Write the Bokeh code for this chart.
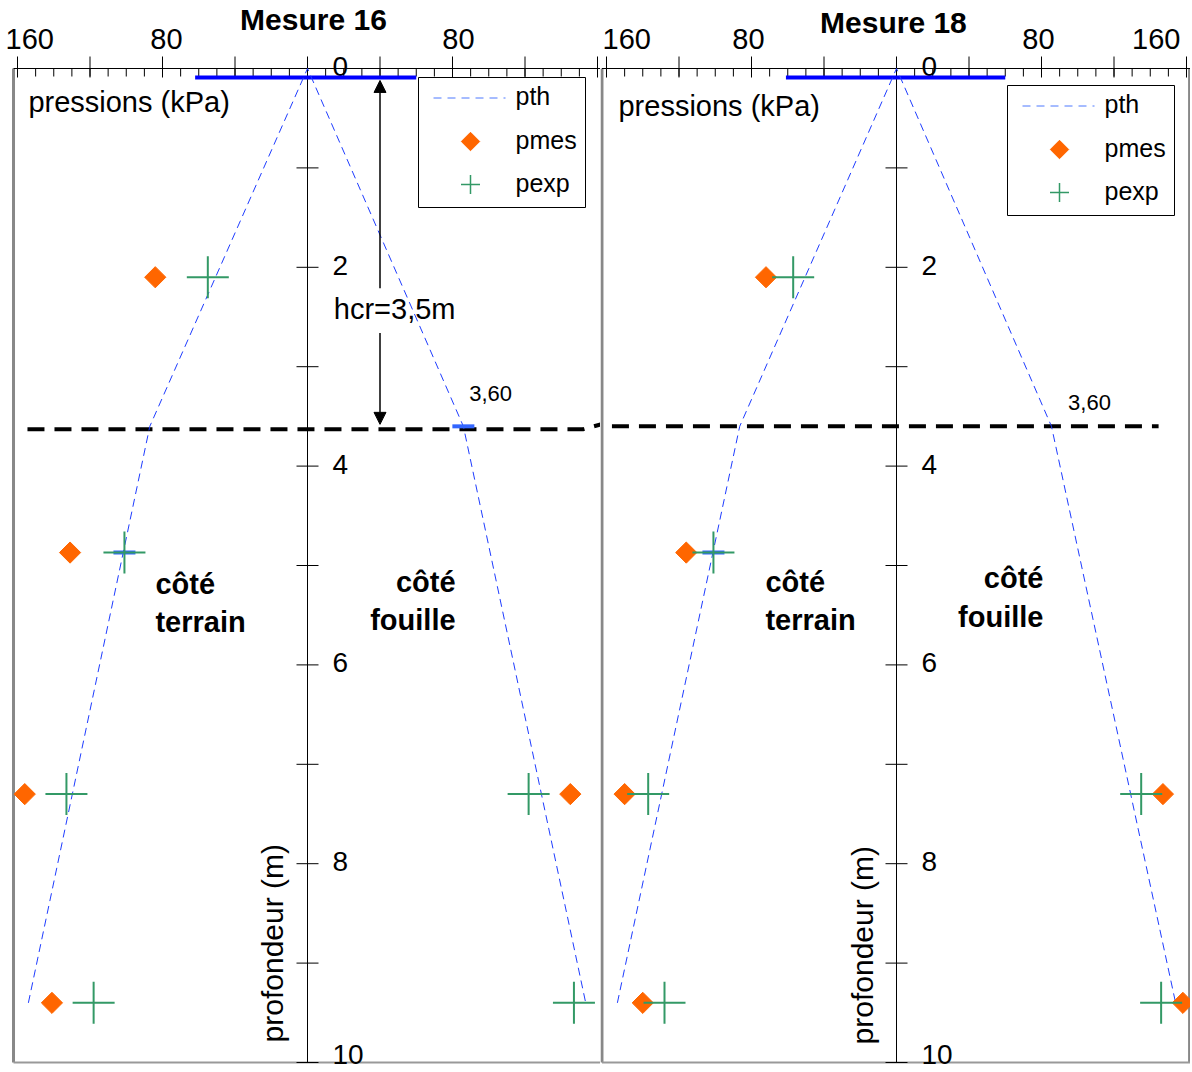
from bokeh.plotting import figure
from bokeh.layouts import row
from bokeh.models import Range1d, Arrow, NormalHead
from bokeh.core.properties import value
from bokeh.embed import file_html
from bokeh.resources import INLINE

# ---------------- data ----------------
titles = ["Mesure 16", "Mesure 18"]

# theoretical pressure profile (negative pressure = côté terrain)
pth_depth = [9.4, 3.6, 0.0, 3.6, 9.4]
pth_press_16 = [-154, -87, 0, 86, 153.5]
pth_press_18 = [-154, -86.5, 0, 85.5, 154]

# measured / experimental points
pt_depth = [2.1, 4.87, 7.3, 9.4]
pmes_terrain_16 = [84, 131, 156, 141]
pexp_terrain_16 = [55, 101, 133, 118]
pmes_fouille_depth_16 = [7.3]
pmes_fouille_16 = [145]
pexp_fouille_depth_16 = [7.3, 9.4]
pexp_fouille_16 = [122, 147]

pmes_terrain_18 = [72, 116, 150, 140]
pexp_terrain_18 = [57, 101, 137, 128]
pmes_fouille_depth_18 = [7.3, 9.4]
pmes_fouille_18 = [147, 158]
pexp_fouille_depth_18 = [7.3, 9.4]
pexp_fouille_18 = [135, 146]

# highlighted points (short blue dashes)
hl_depth_16 = [3.6, 4.87]
hl_press_16 = [86, -101]
hl_depth_18 = [4.87]
hl_press_18 = [-101]

# wall head (thick blue line)
head_press_16 = [-62, 60]
head_press_18 = [-61, 60]
head_depth = 0.09

# critical depth line
hcr_line_press_16 = [-154.5, 152, 162]
hcr_line_depth_16 = [3.63, 3.63, 3.58]
hcr_line_press_18 = [-157, 144.6]
hcr_line_depth_18 = [3.6, 3.6]
hcr_label = "hcr=3,5m"
kink_label = "3,60"

# axes
depth_ticks = list(range(0, 11))
depth_labels = ["0", "2", "4", "6", "8"]
depth_label_pos = [0, 2, 4, 6, 8]
depth_last_label = "10"
depth_last_pos = 10
press_major = list(range(-160, 161, 40))
press_minor = list(range(-160, 161, 10))
press_labels_16 = ["160", "80", "80"]
press_label_pos_16 = [-160, -80, 80]
press_labels_18 = ["160", "80", "80", "160"]
press_label_pos_18 = [-160, -80, 80, 160]

legend_labels = ["pth", "pmes", "pexp"]

FONT = "Liberation Sans"
PX_M = 99.4       # px per metre
PX_K = 1.8125     # px per kPa
TOP_PX = 68       # depth 0 position in px
H = 1070
Y_TOP = -TOP_PX / PX_M
Y_BOT = 10 + (H - TOP_PX - 10 * PX_M) / PX_M

BLUE = "#1E3CFF"
ORANGE = "#FF6600"
GREEN = "#339966"


def txt(p, x, y, t, size, style="normal", align="left", baseline="middle",
        angle=0.0, xo=0, yo=0):
    p.text(x=x, y=y, text=t, text_font=value(FONT), text_font_size=value(size),
           text_font_style=style, text_align=align, text_baseline=baseline,
           angle=angle, x_offset=xo, y_offset=yo, text_color="black")


def make_panel(width, x0_px, title, title_x, title_y, pth_press,
               mes_d, mes_p, exp_d, exp_p, hl_d, hl_p, head_p,
               hcr_p, hcr_d, kink_xy, lbl_pos, lbls, lbl_styles, legend_px,
               left_border, right_border, press_lbl_xy, prof_xy,
               terrain_xy, fouille_xy, hcr_arrow):
    x_start = -x0_px / PX_K
    x_end = (width - x0_px) / PX_K
    p = figure(width=width, height=H, output_backend="svg", toolbar_location=None,
               x_range=Range1d(x_start, x_end), y_range=Range1d(Y_BOT, Y_TOP),
               x_axis_location=None, y_axis_location=None, min_border=0,
               outline_line_color=None)
    p.grid.visible = False
    p.background_fill_color = "white"
    p.border_fill_color = "white"

    def X(px):
        return (px - x0_px) / PX_K

    def Y(py):
        return (py - TOP_PX) / PX_M

    # frame borders
    p.segment(x0=[left_border], y0=[0], x1=[left_border], y1=[10], line_color="#888888", line_width=3)
    if right_border is not None:
        p.segment(x0=[right_border], y0=[0], x1=[right_border], y1=[10], line_color="#888888", line_width=3)
    p.segment(x0=[left_border], y0=[10], x1=[x_end], y1=[10], line_color="#999999", line_width=2)

    # top pressure axis
    p.segment(x0=[left_border], y0=[0], x1=[x_end], y1=[0], line_color="black", line_width=1)
    p.segment(x0=press_minor, y0=[0] * len(press_minor), x1=press_minor,
              y1=[8 / PX_M] * len(press_minor), line_color="black", line_width=1)
    p.segment(x0=press_major, y0=[-12 / PX_M] * len(press_major), x1=press_major,
              y1=[9 / PX_M] * len(press_major), line_color="black", line_width=1)
    for lx, lt, (al, xo) in zip(lbl_pos, lbls, lbl_styles):
        txt(p, [lx], [Y(38)], [lt], "29px", align=al, xo=xo)

    # depth axis
    p.segment(x0=[0], y0=[0], x1=[0], y1=[10], line_color="black", line_width=1)
    p.scatter(x=[0] * len(depth_ticks), y=depth_ticks, marker="dash", size=22,
              line_color="black", line_width=1)
    txt(p, [0] * len(depth_label_pos), depth_label_pos, depth_labels, "28px", xo=25, yo=-2)
    txt(p, [0], [depth_last_pos], [depth_last_label], "28px", xo=25, yo=-8)

    # wall head
    p.line(x=head_p, y=[head_depth, head_depth], line_color="#0000FF", line_width=4)

    # critical depth dashed line
    p.line(x=hcr_p, y=hcr_d, line_color="black", line_width=4, line_dash="17 10")

    # theoretical line
    p.line(x=pth_press, y=pth_depth, line_color=BLUE, line_width=1, line_dash="8 5")

    # highlighted pth points
    p.scatter(x=hl_p, y=hl_d, marker="dash", size=22, line_color="#3366FF", line_width=4)

    p.scatter(x=mes_p, y=mes_d, marker="square", angle=0.785398, size=15,
              fill_color=ORANGE, line_color=ORANGE)
    p.scatter(x=exp_p, y=exp_d, marker="cross", size=42, line_color=GREEN, line_width=2)

    # texts
    txt(p, [title_x], [title_y], [title], "30px", style="bold", align="center")
    txt(p, [press_lbl_xy[0]], [press_lbl_xy[1]], ["pressions (kPa)"], "29px")
    txt(p, [prof_xy[0]], [prof_xy[1]], ["profondeur (m)"], "30px", align="center", angle=1.5708)
    txt(p, [terrain_xy[0]] * 2, terrain_xy[1], ["côté", "terrain"], "29px", style="bold")
    txt(p, [fouille_xy[0]] * 2, fouille_xy[1], ["côté", "fouille"], "29px", style="bold", align="right")
    txt(p, [kink_xy[0]], [kink_xy[1]], [kink_label], "22px", align="center")

    if hcr_arrow:
        ax, d_top, d_gap0, d_gap1, d_bot = hcr_arrow
        p.add_layout(Arrow(end=NormalHead(size=12, fill_color="black", line_color="black"),
                           x_start=ax, y_start=d_gap0, x_end=ax, y_end=d_top,
                           line_color="black", line_width=1.5))
        p.add_layout(Arrow(end=NormalHead(size=12, fill_color="black", line_color="black"),
                           x_start=ax, y_start=d_gap1, x_end=ax, y_end=d_bot,
                           line_color="black", line_width=1.5))
        txt(p, [14.5], [2.42], [hcr_label], "29px")

    # legend (drawn as a boxed key)
    bx, by = legend_px
    p.quad(left=[X(bx)], right=[X(bx + 167)], top=[Y(by)], bottom=[Y(by + 130)],
           fill_color="white", line_color="black", line_width=1)
    rows = [by + 20, by + 64, by + 107]
    p.line(x=[X(bx + 15), X(bx + 87)], y=[Y(rows[0]) + 0.5 / PX_M] * 2,
           line_color="#4D78FF", line_width=1, line_dash="8 6")
    p.scatter(x=[X(bx + 52)], y=[Y(rows[1])], marker="square", angle=0.785398, size=13,
              fill_color=ORANGE, line_color=ORANGE)
    p.scatter(x=[X(bx + 52)], y=[Y(rows[2])], marker="cross", size=19,
              line_color=GREEN, line_width=1.5)
    txt(p, [X(bx + 97)] * 3, [Y(r) for r in rows], legend_labels, "25px", yo=-2)
    return p


def side(terr_d, terr_v, fou_d, fou_v):
    return list(terr_d) + list(fou_d), [-v for v in terr_v] + list(fou_v)


m16_d, m16_p = side(pt_depth, pmes_terrain_16, pmes_fouille_depth_16, pmes_fouille_16)
e16_d, e16_p = side(pt_depth, pexp_terrain_16, pexp_fouille_depth_16, pexp_fouille_16)
m18_d, m18_p = side(pt_depth, pmes_terrain_18, pmes_fouille_depth_18, pmes_fouille_18)
e18_d, e18_p = side(pt_depth, pexp_terrain_18, pexp_fouille_depth_18, pexp_fouille_18)

p1 = make_panel(600, 307, titles[0], 3.3, (19 - TOP_PX) / PX_M, pth_press_16,
                m16_d, m16_p, e16_d, e16_p, hl_depth_16, hl_press_16, head_press_16,
                hcr_line_press_16, hcr_line_depth_16, (101, 3.27),
                press_label_pos_16, press_labels_16,
                [("left", -12), ("center", 4), ("center", 6)],
                (418, 77), -162.2, None, (-154, 0.34), (-19.3, 8.8),
                (-83.9, [5.19, 5.57]), (81.7, [5.17, 5.55]),
                (40, 0.12, 2.21, 2.66, 3.58))

p2 = make_panel(590, 296, titles[1], -1.7, (22 - TOP_PX) / PX_M, pth_press_18,
                m18_d, m18_p, e18_d, e18_p, hl_depth_18, hl_press_18, head_press_18,
                hcr_line_press_18, hcr_line_depth_18, (106.5, 3.36),
                press_label_pos_18, press_labels_18,
                [("left", -4), ("center", -3), ("center", -3), ("right", -6)],
                (407, 85), -162.5, 161.7, (-153.4, 0.38), (-18.8, 8.82),
                (-72.3, [5.17, 5.55]), (81.1, [5.13, 5.52]),
                None)

layout = row(p1, p2)
open("out.html", "w").write(file_html(layout, INLINE))
